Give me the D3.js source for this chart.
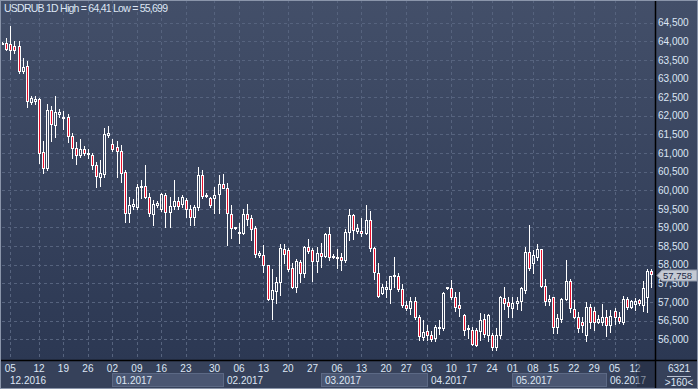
<!DOCTYPE html>
<html>
<head>
<meta charset="utf-8">
<script src="https://cdn.jsdelivr.net/npm/d3@7"></script>
<style>
  html, body { margin: 0; padding: 0; background: #2c3854; }
  svg { display: block; }
</style>
</head>
<body>
<div id="chart"></div>
<script>
// USDRUB daily candles
var open = [
  63.965, 63.95, 63.92, 63.87, 63.87, 63.21, 63.34, 62.37, 62.39, 62.44,
  61.02, 60.59, 62.15, 61.76, 62.04, 61.96, 61.96, 61.45, 61.13, 60.96,
  61.10, 60.97, 60.96, 60.67, 60.36, 60.44, 61.48, 61.23, 61.16, 61.05,
  60.50, 59.40, 59.59, 59.56, 60.08, 60.11, 59.82, 59.35, 59.60, 59.49,
  59.87, 59.42, 59.58, 59.71, 59.62, 59.73, 59.51, 59.27, 59.54, 60.41,
  59.84, 59.78, 59.78, 59.89, 60.16, 60.07, 59.36, 58.98, 58.85, 58.86,
  59.36, 59.25, 58.98, 58.27, 58.25, 57.98, 57.07, 57.29, 57.53, 58.41,
  58.39, 57.90, 57.41, 58.08, 57.77, 58.47, 58.39, 58.10, 58.31, 58.24,
  58.82, 58.21, 58.19, 58.21, 58.14, 58.89, 59.34, 58.91, 58.91, 58.84,
  59.20, 58.44, 57.79, 57.23, 57.34, 57.34, 57.71, 57.71, 57.36, 56.91,
  56.85, 57.02, 56.59, 56.07, 56.21, 56.11, 56.02, 56.30, 56.29, 57.37,
  57.37, 57.12, 56.91, 56.64, 56.31, 56.26, 56.25, 56.23, 56.53, 56.11,
  56.11, 55.78, 56.11, 57.10, 57.00, 56.85, 56.96, 57.03, 57.32, 58.35,
  58.05, 58.22, 58.41, 57.43, 57.03, 57.12, 56.33, 56.53, 57.07, 57.56,
  56.82, 56.60, 56.46, 56.11, 56.87, 56.76, 56.47, 56.47, 56.60, 56.39,
  56.76, 56.60, 56.47, 57.07, 56.87, 56.94, 57.05, 56.93, 57.14, 57.83
];
var high = [
  63.99, 64.08, 64.41, 64.01, 64.01, 63.56, 63.47, 62.52, 62.52, 62.47,
  61.33, 62.33, 62.26, 62.53, 62.17, 62.14, 62.05, 61.53, 61.30, 61.39,
  61.19, 61.12, 61.01, 60.77, 60.81, 61.66, 61.72, 61.37, 61.33, 61.21,
  60.54, 59.83, 59.76, 60.17, 60.27, 60.68, 59.92, 59.74, 59.71, 59.93,
  59.93, 59.83, 60.27, 59.83, 59.87, 59.78, 59.60, 59.60, 60.63, 60.54,
  59.92, 59.83, 60.10, 60.41, 60.44, 60.19, 59.60, 59.02, 59.11, 59.49,
  59.63, 59.34, 59.04, 58.38, 58.53, 57.99, 57.88, 57.66, 58.56, 58.57,
  58.44, 58.04, 58.15, 58.14, 58.50, 58.68, 58.44, 58.47, 58.59, 58.86,
  59.00, 58.29, 58.41, 58.31, 58.95, 59.49, 59.36, 59.09, 59.25, 59.60,
  59.45, 58.47, 58.04, 57.48, 57.57, 57.71, 58.20, 57.77, 57.48, 57.02,
  57.14, 57.14, 56.65, 56.51, 56.38, 56.23, 56.38, 56.51, 57.28, 57.40,
  57.59, 57.28, 57.28, 56.68, 56.38, 56.33, 56.29, 56.71, 56.69, 56.69,
  56.17, 56.29, 57.16, 57.39, 57.12, 57.12, 57.12, 57.41, 58.47, 59.07,
  58.39, 58.57, 58.41, 57.63, 57.19, 57.14, 56.69, 57.10, 58.13, 57.63,
  57.05, 56.74, 56.59, 57.00, 56.94, 56.87, 56.65, 56.94, 56.78, 56.78,
  56.83, 56.74, 57.16, 57.12, 57.05, 57.10, 57.09, 57.57, 57.88, 57.88
];
var low = [
  63.93, 63.77, 63.52, 63.68, 63.16, 63.16, 62.23, 62.33, 62.33, 60.74,
  60.47, 60.54, 61.33, 61.44, 61.98, 61.65, 61.30, 60.86, 60.70, 60.90,
  60.95, 60.86, 60.57, 60.10, 60.11, 60.36, 61.42, 61.06, 60.35, 60.21,
  59.16, 59.16, 59.51, 59.51, 59.78, 59.78, 59.31, 59.08, 59.56, 59.45,
  59.00, 59.02, 59.49, 59.49, 59.54, 59.29, 59.07, 59.07, 59.47, 59.78,
  59.81, 59.56, 59.40, 59.38, 60.05, 58.53, 58.73, 58.97, 58.59, 58.82,
  59.06, 58.66, 58.20, 58.22, 57.81, 57.05, 56.53, 56.96, 57.19, 58.05,
  57.84, 57.37, 57.28, 57.54, 57.68, 58.32, 57.57, 57.81, 57.95, 58.20,
  58.13, 58.17, 57.90, 57.85, 58.08, 58.66, 58.68, 58.86, 58.77, 58.82,
  58.38, 57.61, 57.14, 57.21, 57.14, 56.98, 57.41, 57.30, 56.87, 56.78,
  56.69, 56.53, 55.98, 55.98, 55.98, 55.96, 55.96, 56.14, 56.26, 57.36,
  57.07, 56.77, 56.62, 56.11, 56.02, 55.84, 55.82, 55.99, 56.07, 55.96,
  55.71, 55.699, 56.02, 56.80, 56.60, 56.60, 56.80, 56.78, 57.23, 57.86,
  57.77, 58.13, 57.39, 56.92, 56.92, 56.16, 56.16, 56.47, 57.05, 56.74,
  56.56, 56.20, 56.19, 55.96, 56.29, 56.26, 56.43, 56.38, 56.08, 56.20,
  56.41, 56.43, 56.41, 56.80, 56.85, 56.78, 56.92, 56.77, 56.74, 57.41
];
var close = [
  63.955, 63.80, 63.78, 63.78, 63.21, 63.30, 62.39, 62.48, 62.44, 61.01,
  60.61, 62.15, 61.77, 62.10, 62.09, 61.97, 61.45, 61.13, 60.95, 61.11,
  60.99, 61.01, 60.67, 60.37, 60.47, 61.51, 61.53, 61.12, 61.05, 60.47,
  59.40, 59.60, 59.64, 60.10, 60.11, 59.81, 59.40, 59.62, 59.65, 59.90,
  59.42, 59.58, 59.71, 59.59, 59.83, 59.51, 59.27, 59.54, 60.41, 59.85,
  59.88, 59.60, 59.87, 60.17, 60.07, 59.38, 58.99, 59.01, 58.87, 59.36,
  59.24, 58.97, 58.28, 58.31, 57.98, 57.07, 57.32, 57.53, 58.44, 58.28,
  57.88, 57.41, 58.10, 57.77, 58.47, 58.38, 58.10, 58.31, 58.23, 58.82,
  58.22, 58.23, 58.21, 58.14, 58.89, 59.34, 58.93, 58.98, 58.84, 59.20,
  58.44, 57.81, 57.16, 57.41, 57.39, 57.71, 57.73, 57.36, 56.91, 56.85,
  57.02, 56.59, 56.08, 56.20, 56.11, 55.995, 56.32, 56.33, 57.23, 57.39,
  57.14, 56.87, 56.85, 56.26, 56.27, 55.86, 55.84, 56.52, 56.13, 56.64,
  55.78, 56.11, 57.12, 56.96, 56.90, 56.96, 57.03, 57.37, 58.35, 57.90,
  58.26, 58.41, 57.43, 57.03, 57.07, 56.33, 56.56, 57.07, 57.56, 56.85,
  56.60, 56.29, 56.37, 56.87, 56.47, 56.47, 56.53, 56.60, 56.39, 56.62,
  56.59, 56.48, 57.09, 56.87, 57.03, 57.03, 56.96, 57.37, 57.83, 57.758
];

// price axis ticks
var priceTicks = [56, 56.5, 57, 57.5, 58, 58.5, 59, 59.5, 60, 60.5, 61, 61.5, 62, 62.5, 63, 63.5, 64, 64.5];

// date axis: day labels sit on bar indices
var dayTickIdx = [2, 9, 15, 21, 27, 33, 39, 45, 52, 58, 64, 70, 76, 82, 88, 94, 99, 104, 110, 115, 120, 125, 130, 135, 140, 145, 150, 155];
var dayTickLabels = ["05", "12", "19", "26", "02", "09", "16", "23", "30", "06", "13", "20", "27", "06", "13", "20", "27", "03", "10", "17", "24", "01", "08", "15", "22", "29", "05", "12"];
var monthStartIdx = [-6, 27, 54, 78, 104, 125, 148];
var monthLabels = ["12.2016", "01.2017", "02.2017", "03.2017", "04.2017", "05.2017", "06.2017"];

var title = "USDRUB 1D High = 64,41 Low = 55,699";
var barCount = "6321";

var drawChart = function() {

    // sizes
    const width = 698;
    const height = 389;
    const plotLeft = 2;
    const plotRight = 655;
    const plotBottom = 360;

    // colours & fonts
    var bgTop = "#434f69";
    var bgBottom = "#2c3853";
    var axisBg = "#36415a";
    var monthHi = "#4a5672";
    var gridColor = "#56637e";
    var textColor = "#dde6f4";
    var bearColor = "#e8102c";
    var fontFamily = "'Liberation Sans', Arial, sans-serif";
    var fontSize = 10;

    var ruLocale = d3.formatLocale({decimal: ",", thousands: " ", grouping: [3], currency: ["", ""]});
    var fmtPrice = ruLocale.format(".3f");

    var data = close.map(function(c, i) {
        return {i: i, o: open[i], h: high[i], l: low[i], c: c};
    });

    var svg = d3.select("#chart")
        .append("svg")
        .attr("width", width)
        .attr("height", height);

    var defs = svg.append("defs");
    var grad = defs.append("linearGradient")
        .attr("id", "bg")
        .attr("x1", 0).attr("y1", 0).attr("x2", 0).attr("y2", 1);
    grad.append("stop").attr("offset", "0%").attr("stop-color", bgTop);
    grad.append("stop").attr("offset", "100%").attr("stop-color", bgBottom);

    defs.append("clipPath").attr("id", "plotClip")
        .append("rect")
        .attr("x", plotLeft).attr("y", 0)
        .attr("width", plotRight - plotLeft).attr("height", plotBottom);

    // backgrounds
    svg.append("rect")
        .attr("width", width).attr("height", plotBottom)
        .attr("fill", "url(#bg)");
    svg.append("rect")
        .attr("y", plotBottom).attr("width", width).attr("height", height - plotBottom)
        .attr("fill", axisBg);

    // scales
    var x = d3.scaleLinear()
        .domain([0, data.length - 1])
        .range([2.2, 651.3]);
    var y = d3.scaleLinear()
        .domain([56, 64.5])
        .range([339.2, 22.7]);

    // grid
    var grid = svg.append("g");
    grid.selectAll("line.h")
        .data(priceTicks)
        .join("line")
        .attr("x1", plotLeft).attr("x2", plotRight)
        .attr("y1", d => Math.round(y(d)) + 0.5)
        .attr("y2", d => Math.round(y(d)) + 0.5)
        .attr("stroke", gridColor)
        .attr("stroke-dasharray", "3,3");
    grid.selectAll("line.v")
        .data(dayTickIdx)
        .join("line")
        .attr("x1", d => Math.round(x(d)) + 0.5)
        .attr("x2", d => Math.round(x(d)) + 0.5)
        .attr("y1", 0).attr("y2", plotBottom)
        .attr("stroke", gridColor)
        .attr("stroke-dasharray", "3,3");

    // candles
    var candles = svg.append("g")
        .attr("clip-path", "url(#plotClip)")
        .selectAll("g")
        .data(data)
        .join("g");

    function bodyTop(d) { return Math.round(y(Math.max(d.o, d.c))); }
    function bodyBot(d) { return Math.max(bodyTop(d) + 1, Math.round(y(Math.min(d.o, d.c)))); }
    function cx(d) { return Math.round(x(d.i)); }

    candles.append("line")
        .attr("x1", d => cx(d) + 0.5).attr("x2", d => cx(d) + 0.5)
        .attr("y1", d => Math.round(y(d.h)))
        .attr("y2", d => bodyTop(d))
        .attr("stroke", "#ffffff");
    candles.append("line")
        .attr("x1", d => cx(d) + 0.5).attr("x2", d => cx(d) + 0.5)
        .attr("y1", d => bodyBot(d) + 1)
        .attr("y2", d => Math.max(bodyBot(d) + 1, Math.round(y(d.l)) + 1))
        .attr("stroke", "#ffffff");
    candles.append("rect")
        .attr("x", d => cx(d) - 0.5)
        .attr("y", d => bodyTop(d) + 0.5)
        .attr("width", 2)
        .attr("height", d => bodyBot(d) - bodyTop(d))
        .attr("fill", d => d.c < d.o ? bearColor : "none")
        .attr("stroke", "#ffffff");

    // separators
    svg.append("line")
        .attr("x1", plotRight + 0.5).attr("x2", plotRight + 0.5)
        .attr("y1", 0).attr("y2", height)
        .attr("stroke", "#000000").attr("stroke-width", 1.5);

    // month row
    var months = svg.append("g");
    monthStartIdx.forEach(function(s, i) {
        var x0 = Math.max(x(s), plotLeft);
        var x1 = i < monthStartIdx.length - 1 ? x(monthStartIdx[i + 1]) : plotRight;
        x0 = Math.round(x0); x1 = Math.round(x1);
        if (i % 2 == 1) {
            months.append("rect")
                .attr("x", x0 + 0.5).attr("y", 373.5)
                .attr("width", x1 - x0).attr("height", 13)
                .attr("fill", monthHi)
                .attr("stroke", "#5c6985");
        }
        months.append("text")
            .attr("x", Math.max(x0 + 4, 10))
            .attr("y", 384)
            .attr("fill", textColor)
            .attr("font-family", fontFamily)
            .attr("font-size", fontSize)
            .text(monthLabels[i]);
    });

    // day labels
    svg.append("g").selectAll("text")
        .data(dayTickIdx)
        .join("text")
        .attr("x", d => x(d))
        .attr("y", 372)
        .attr("text-anchor", "middle")
        .attr("fill", textColor)
        .attr("font-family", fontFamily)
        .attr("font-size", fontSize)
        .text((d, i) => dayTickLabels[i]);

    // shaded view marker at the right end of the date axis
    svg.append("rect")
        .attr("x", 637).attr("y", plotBottom + 1)
        .attr("width", plotRight - 637).attr("height", height - plotBottom - 3)
        .attr("fill", "#1b2438").attr("opacity", 0.45);

    svg.append("line")
        .attr("x1", 0).attr("x2", width)
        .attr("y1", plotBottom + 0.5).attr("y2", plotBottom + 0.5)
        .attr("stroke", "#000000").attr("stroke-width", 1.5);

    // price labels
    svg.append("g").selectAll("text")
        .data(priceTicks)
        .join("text")
        .attr("x", 658)
        .attr("y", d => y(d) + 3.7)
        .attr("fill", textColor)
        .attr("font-family", fontFamily)
        .attr("font-size", fontSize)
        .text(d => fmtPrice(d));

    // last price tag
    var last = data[data.length - 1];
    var yc = Math.round(y(last.c)) + 1.5;
    svg.append("path")
        .attr("d", `M657,${yc} L662,${yc - 5.5} L697,${yc - 5.5} L697,${yc + 5.5} L662,${yc + 5.5} Z`)
        .attr("fill", "#c4c9d3")
        .attr("stroke", "#8e97a8");
    svg.append("text")
        .attr("x", 663).attr("y", yc + 3)
        .attr("fill", "#1b2745")
        .attr("font-family", fontFamily)
        .attr("font-size", 9.5)
        .text(fmtPrice(last.c));

    // bottom-right info box
    svg.append("text")
        .attr("x", 679).attr("y", 372)
        .attr("text-anchor", "middle")
        .attr("fill", textColor)
        .attr("font-family", fontFamily)
        .attr("font-size", fontSize)
        .text(barCount);
    svg.append("line")
        .attr("x1", 667).attr("x2", 691)
        .attr("y1", 376.5).attr("y2", 376.5)
        .attr("stroke", "#b8c1d2");
    svg.append("text")
        .attr("x", 679).attr("y", 386)
        .attr("text-anchor", "middle")
        .attr("fill", textColor)
        .attr("font-family", fontFamily)
        .attr("font-size", fontSize)
        .text(">" + data.length + "<");

    // title
    svg.append("text")
        .attr("x", 4).attr("y", 12)
        .attr("fill", textColor)
        .attr("font-family", fontFamily)
        .attr("font-size", 10.5)
        .attr("textLength", 164)
        .text(title);

    // outer frame
    svg.append("rect")
        .attr("x", 0.5).attr("y", 0.5)
        .attr("width", width - 1).attr("height", height - 1)
        .attr("fill", "none")
        .attr("stroke", "#8a95aa");
}

window.addEventListener("load", drawChart)
</script>
</body>
</html>
